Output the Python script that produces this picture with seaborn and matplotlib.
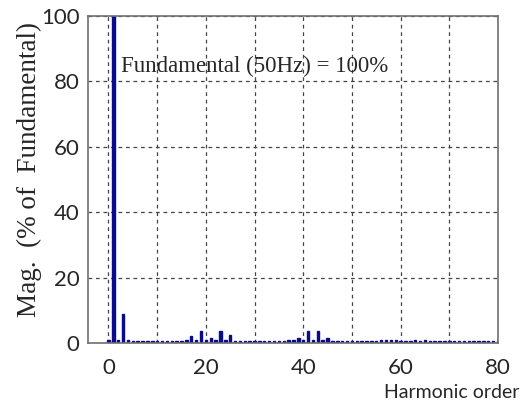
import numpy as np
import matplotlib
matplotlib.use("Agg")
import matplotlib.pyplot as plt
import seaborn as sns

# Harmonic spectrum, % of fundamental
orders = list(range(0, 81))
mags = [0.8, 100, 0.9, 8.8, 0.8, 0.6, 0.5, 0.7, 0.5, 0.6,
        0.7, 0.5, 0.7, 0.6, 0.5, 0.7, 0.9, 2.2, 0.8, 3.8,
        0.9, 1.5, 0.8, 3.7, 0.8, 2.3, 0.7, 0.5, 0.7, 0.5,
        0.7, 0.5, 0.6, 0.7, 0.5, 0.7, 0.6, 0.8, 0.9, 1.5,
        1.0, 3.8, 0.9, 3.7, 0.8, 1.4, 0.7, 0.5, 0.7, 0.5,
        0.7, 0.5, 0.6, 0.7, 0.5, 0.7, 0.8, 1.0, 0.8, 1.0,
        0.7, 0.5, 0.7, 0.9, 0.5, 1.0, 0.7, 0.5, 0.7, 0.5,
        0.7, 0.5, 0.6, 0.7, 0.5, 0.7, 0.5, 0.7, 0.5, 0.7, 0.5]
xticks = [0, 20, 40, 60, 80]
yticks = [0, 20, 40, 60, 80, 100]

sns.set_style("white")
navy = "#0a0a8c"

fig = plt.figure(figsize=(5.27, 4.03), dpi=100)
ax = fig.add_axes([0.167, 0.149, 0.778, 0.811])

sns.histplot(x=orders, weights=mags, discrete=True, shrink=0.5,
             element="bars", color=navy, edgecolor=navy, linewidth=1.0,
             alpha=1, ax=ax)

ax.set_xlim(-4.2, 80)
ax.set_ylim(0, 100)
ax.set_xticks(xticks)
ax.set_xticks(np.arange(10, 80, 10), minor=True)
ax.set_yticks(yticks)
ax.grid(True, which="both", axis="x", linestyle=(0, (3, 3)), color="#444444", linewidth=0.9)
ax.grid(True, which="major", axis="y", linestyle=(0, (3, 3)), color="#444444", linewidth=0.9)
ax.set_axisbelow(True)
ax.tick_params(axis="x", which="both", length=0, labelsize=16, pad=11)
ax.tick_params(axis="y", which="both", length=0, labelsize=16, pad=6)
for lab in ax.get_xticklabels() + ax.get_yticklabels():
    lab.set_family(["Lato", "DejaVu Sans"])
for s in ax.spines.values():
    s.set_color("#707070")
    s.set_linewidth(1.2)

ax.set_xlabel("")
ax.set_ylabel("Mag.  (% of  Fundamental)", family="Liberation Serif", fontsize=19.5)
ax.yaxis.set_label_coords(-0.112, 0.53)
ax.text(2.6, 84.5, "Fundamental (50Hz) = 100%", family="Liberation Serif", fontsize=16.5,
        va="center", ha="left")
fig.text(0.985, 0.005, "Harmonic order", family=["Lato", "DejaVu Sans"], fontsize=14,
         ha="right", va="bottom")

fig.savefig("out.png", dpi=100)
